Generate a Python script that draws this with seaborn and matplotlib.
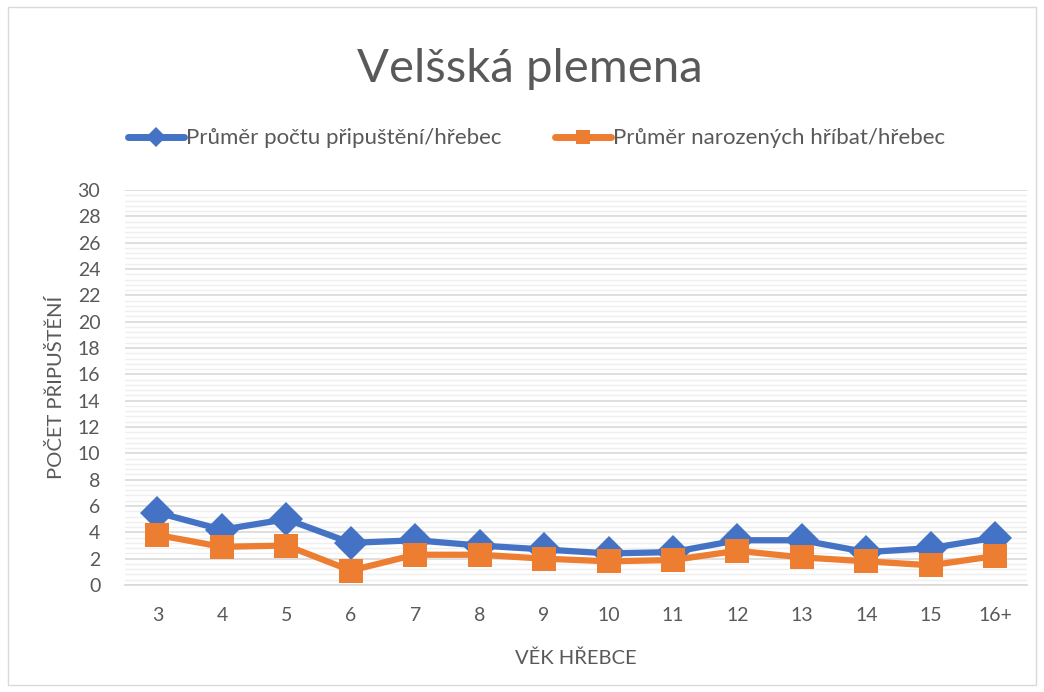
"""Velšská plemena: průměrný počet připuštění a narozených hříbat podle věku hřebce."""
import matplotlib
matplotlib.use("Agg")
import matplotlib.pyplot as plt
from matplotlib.patches import Rectangle
from matplotlib.ticker import MultipleLocator
import seaborn as sns
import pandas as pd

sns.set_theme(style="white")
plt.rcParams["font.family"] = ["Lato", "DejaVu Sans"]

vek = ["3", "4", "5", "6", "7", "8", "9", "10", "11", "12", "13", "14", "15", "16+"]
pripusteni = [5.5, 4.2, 5.0, 3.2, 3.4, 3.0, 2.7, 2.4, 2.5, 3.4, 3.4, 2.5, 2.8, 3.6]
hribata = [3.8, 2.9, 3.0, 1.1, 2.3, 2.3, 2.0, 1.8, 1.9, 2.6, 2.1, 1.8, 1.5, 2.2]

s1 = "Průměr počtu připuštění/hřebec"
s2 = "Průměr narozených hříbat/hřebec"
df = pd.concat([
    pd.DataFrame({"vek": vek, "hodnota": pripusteni, "serie": s1}),
    pd.DataFrame({"vek": vek, "hodnota": hribata, "serie": s2}),
])

grey = "#595959"
fig = plt.figure(figsize=(10.44, 6.92), dpi=100)
ax = fig.add_axes([0.12, 0.1546, 0.864, 0.5708])

sns.lineplot(data=df, x="vek", y="hodnota", hue="serie", style="serie",
             palette=["#4472c4", "#ed7d31"], markers=["D", "s"], dashes=False,
             linewidth=4.5, markersize=17, markeredgewidth=0, sort=False,
             legend=False, ax=ax)

ax.set_ylim(0, 30)
ax.set_xlim(-0.5, len(vek) - 0.5)
ax.yaxis.set_major_locator(MultipleLocator(2))
ax.yaxis.set_minor_locator(MultipleLocator(0.4))
ax.grid(which="major", axis="y", color="#d9d9d9", linewidth=1.2)
ax.grid(which="minor", axis="y", color="#efefef", linewidth=1.0)
ax.set_axisbelow(True)
for side in ["left", "right", "top"]:
    ax.spines[side].set_visible(False)
ax.spines["bottom"].set_color("#d9d9d9")
ax.tick_params(axis="both", length=0, colors=grey, labelsize=14)
ax.tick_params(axis="x", pad=16)
ax.tick_params(axis="y", pad=18)
ax.set_xlabel("VĚK HŘEBCE", color=grey, fontsize=14.5, labelpad=18)
ax.set_ylabel("POČET PŘIPUŠTĚNÍ", color=grey, fontsize=14.5, labelpad=9)

fig.suptitle("Velšská plemena", x=0.508, y=0.93, fontsize=34, color=grey)

handles = [
    plt.Line2D([], [], color="#4472c4", lw=5, marker="D", markersize=10, markeredgewidth=0),
    plt.Line2D([], [], color="#ed7d31", lw=5, marker="s", markersize=10, markeredgewidth=0),
]
fig.legend(handles, [s1, s2], loc="center", bbox_to_anchor=(0.514, 0.80), ncol=2,
           frameon=False, fontsize=16, labelcolor=grey, handlelength=2.5,
           handletextpad=0.1, columnspacing=2.4)

fig.patches.append(Rectangle((0.008, 0.01), 0.984, 0.98, transform=fig.transFigure,
                             fill=False, edgecolor="#d9d9d9", linewidth=1))

fig.savefig("out.png", dpi=100)
plt.close()
